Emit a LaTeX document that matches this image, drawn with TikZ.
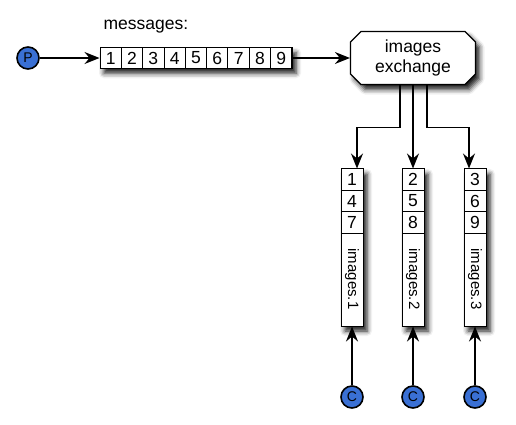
\documentclass[tikz,border=0pt]{standalone}
\usepackage{fontspec}
\setmainfont{Liberation Sans}
\usepackage{tikz}
\usetikzlibrary{positioning,arrows.meta,shapes.misc,shadows.blur}
\definecolor{ballblue}{RGB}{58,112,212}
\tikzset{
	pin/.style={circle, draw=black, line width=1.6pt, fill=ballblue, minimum size=22pt, inner sep=0pt, font=\fontsize{14}{14}\selectfont},
	box shadow/.style={blur shadow={shadow xshift=4pt, shadow yshift=-5pt, shadow blur radius=5pt, shadow opacity=90}},
	cell/.style={draw=black, line width=1pt, fill=white, inner sep=0pt, outer sep=0pt, minimum width=21.33pt, minimum height=20.5pt},
	flow/.style={-{Stealth[length=15pt,width=12pt,inset=5pt]}, line width=1.6pt}
}

\begin{document}
\begin{tikzpicture}[x=1pt, y=-1pt, font=\fontsize{17.5}{20}\selectfont]
	\useasboundingbox (0,0) rectangle (516,424);

	% producer and message queue
	\node[pin] (P) at (28,58) {P};
	\node[box shadow, draw, line width=1pt, fill=white, inner sep=0pt, minimum width=192pt, minimum height=20.5pt] (msgs) at (196,58) {};
	\foreach \n in {1,...,9} \node[cell] (m\n) at ({89.35+21.33*\n},58) {\n};
	\node[anchor=base west] (title) at (100,29) {messages:};
	\draw[flow] (P) -- (msgs);

	% exchange
	\node[box shadow, chamfered rectangle, chamfered rectangle xsep=7pt, draw, line width=1.2pt, fill=white, minimum width=125pt, minimum height=53pt, align=center] (ex) at (413,58) {images\\exchange};
	\draw[flow] (msgs.east) -- (ex.west);

	% queues and consumers
	\foreach \i/\x/\a/\b/\c in {1/352/1/4/7, 2/413/2/5/8, 3/475/3/6/9} {
		\node[box shadow, draw, line width=1pt, fill=white, inner sep=0pt, minimum width=22pt, minimum height=157pt] (q\i) at (\x,247.5) {};
		\node[cell, minimum width=22pt, minimum height=21.7pt, anchor=north] (q\i-1) at (q\i.north) {\a};
		\node[cell, minimum width=22pt, minimum height=21.7pt, below=0pt of q\i-1] (q\i-2) {\b};
		\node[cell, minimum width=22pt, minimum height=21.7pt, below=0pt of q\i-2] (q\i-3) {\c};
		\node[rotate=-90, font=\fontsize{15}{15}\selectfont] (lab\i) at (\x,279) {images.\i};
		\node[pin] (c\i) at (\x,397) {C};
		\draw[flow] (c\i) -- (q\i.south);
	}

	\draw[flow] ([xshift=-13pt]ex.south) -- ++(0,42.5) -| ([xshift=5pt]q1.north);
	\draw[flow] (ex.south) -- (q2.north);
	\draw[flow] ([xshift=14pt]ex.south) -- ++(0,42.5) -| ([xshift=-6pt]q3.north);
\end{tikzpicture}
\end{document}
